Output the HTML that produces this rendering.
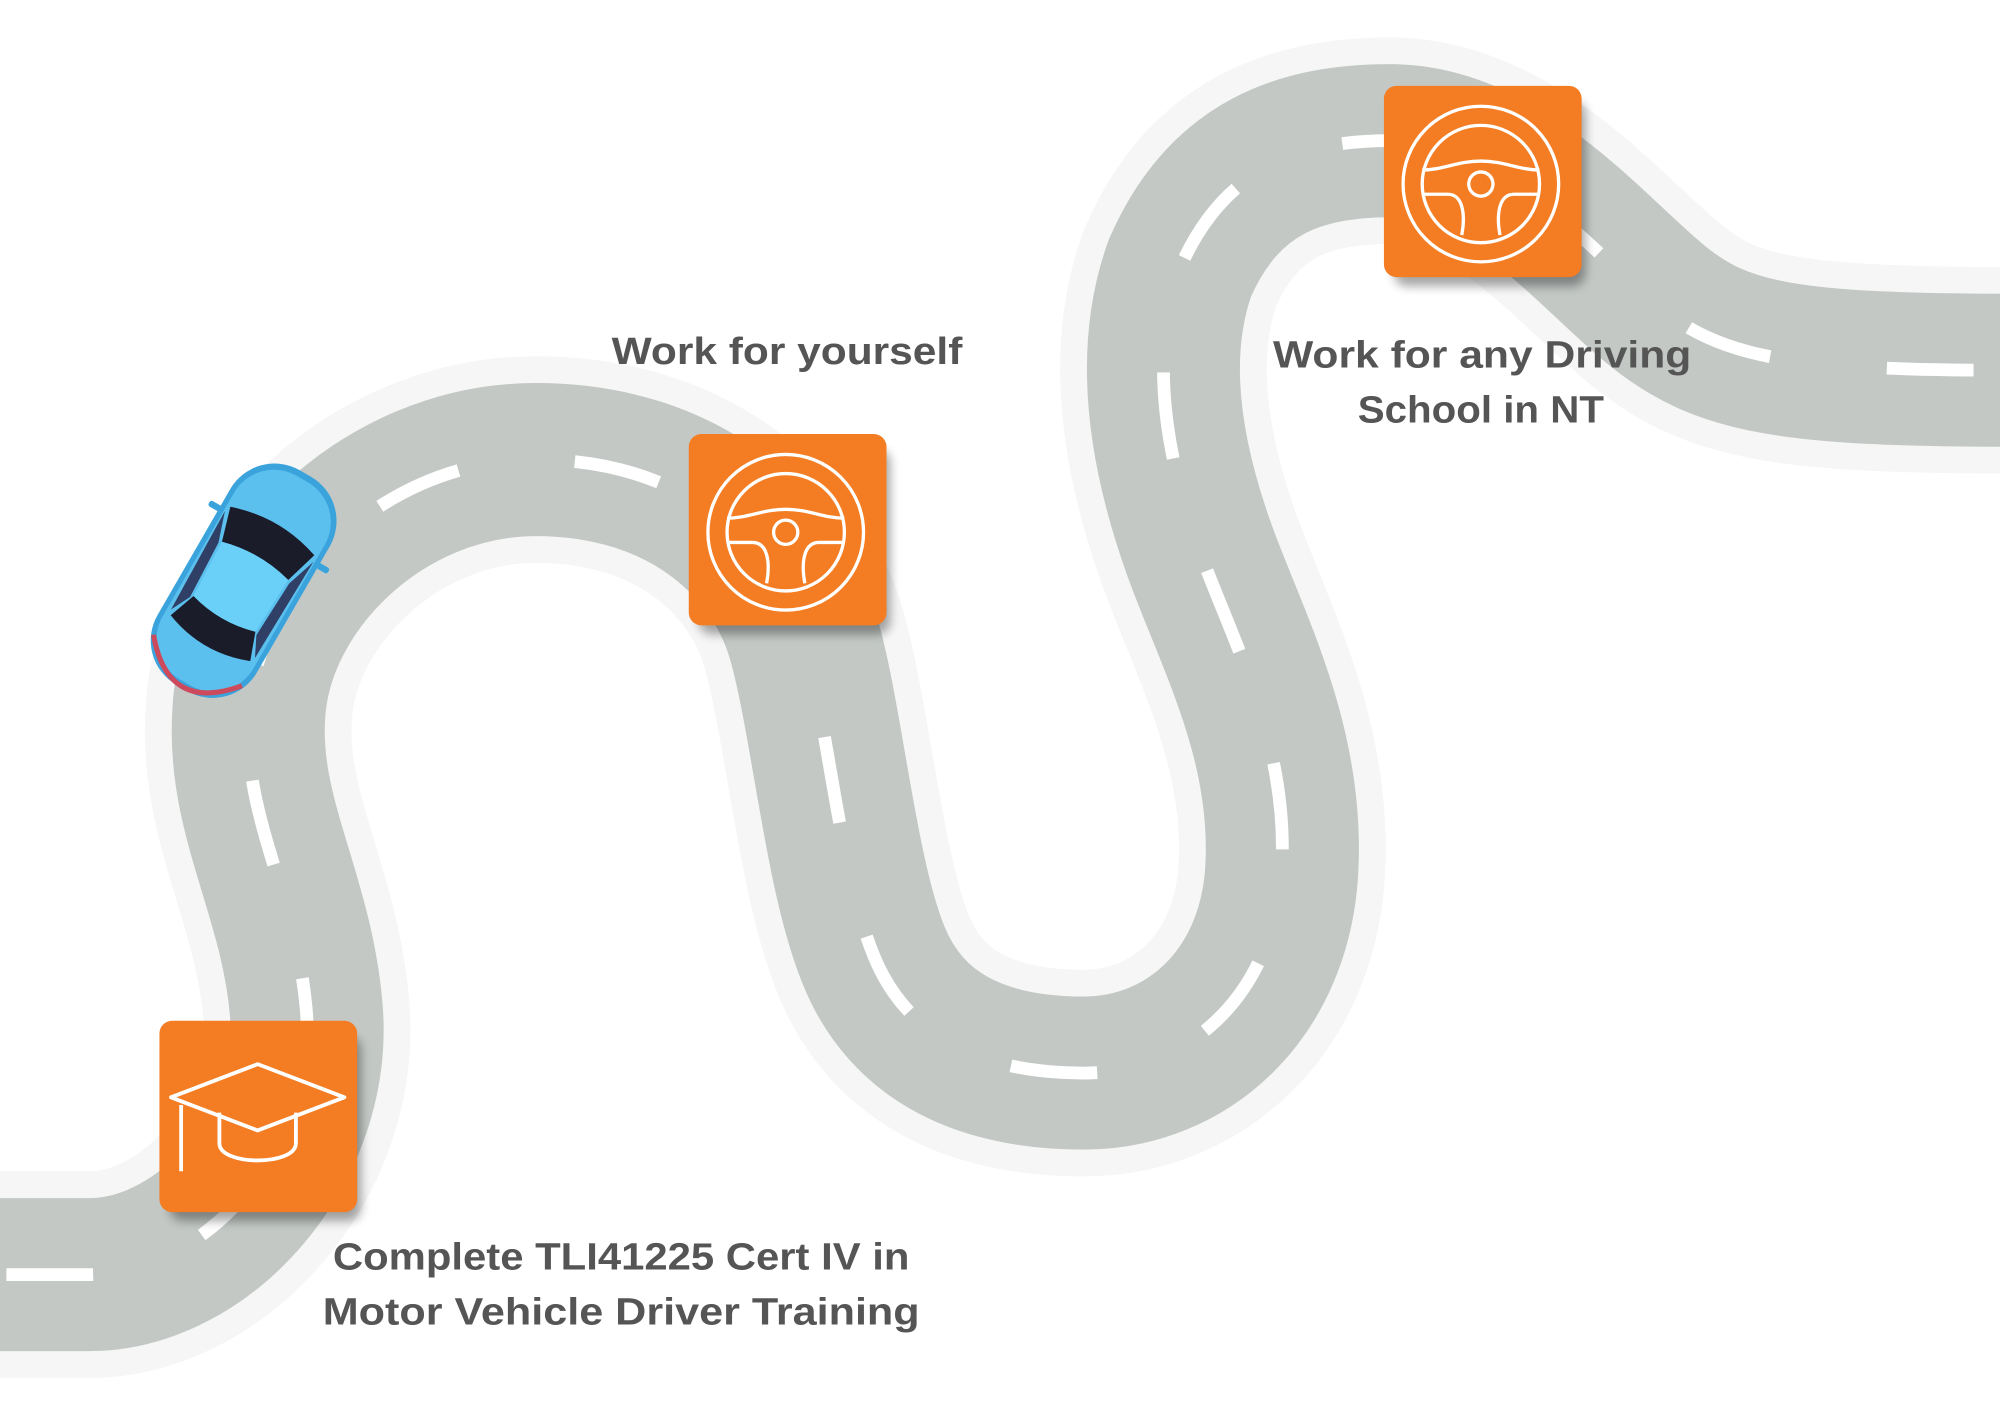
<!DOCTYPE html>
<html><head><meta charset="utf-8"><style>
html,body{margin:0;padding:0;background:#fff;}
svg{display:block;}
text{font-family:"Liberation Sans",sans-serif;font-weight:bold;fill:#555;}
</style></head><body>
<svg width="2000" height="1414" viewBox="0 0 1568 1108" xmlns="http://www.w3.org/2000/svg">
<defs>
<filter id="sh" x="-20%" y="-20%" width="140%" height="150%"><feGaussianBlur stdDeviation="4"/></filter>
<path id="road" d="M -10 999 L 70 999 C 160 999 250 900 240 790 C 232 700 190 640 195 560 C 200 460 300 360 420 360 C 540 360 610 430 630 500 C 650 570 660 700 690 760 C 720 820 780 841 850 841 C 930 841 1000 780 1005 680 C 1010 580 965 500 940 430 C 915 360 900 280 925 210 C 960 130 1020 110 1090 110 C 1180 110 1250 200 1300 240 C 1350 280 1400 290 1580 290"/>
<g id="wheel" fill="none" stroke="#fff" stroke-width="2.6">
<circle r="61"/><circle r="46"/><circle r="9.5"/>
<path d="M-46 -11 C-30 -11 -18 -18 0 -18 C18 -18 30 -11 46 -11"/>
<path d="M-45 8 L-26 8 C-14 8 -12 24 -15 40"/>
<path d="M45 8 L26 8 C14 8 12 24 15 40"/>
</g>
</defs>
<g fill="none" stroke-linecap="butt">
<use href="#road" stroke="#f5f6f5" stroke-width="162"/>
<use href="#road" stroke="#c3c8c5" stroke-width="120"/>
<use href="#road" stroke="#fff" stroke-width="10" stroke-dasharray="68 92" stroke-dashoffset="-15"/>
</g>
<g>
<rect x="133" y="812" width="150" height="145" rx="10" fill="#000" opacity="0.35" filter="url(#sh)"/>
<rect x="125" y="800" width="155" height="150" rx="10" fill="#f47c22"/>
<rect x="548" y="352" width="150" height="145" rx="10" fill="#000" opacity="0.35" filter="url(#sh)"/>
<rect x="540" y="340" width="155" height="150" rx="10" fill="#f47c22"/>
<rect x="1093" y="79" width="150" height="145" rx="10" fill="#000" opacity="0.35" filter="url(#sh)"/>
<rect x="1085" y="67" width="155" height="150" rx="10" fill="#f47c22"/>
</g>
<use href="#wheel" x="616" y="417"/>
<use href="#wheel" x="1161" y="144"/>
<g fill="none" stroke="#fff" stroke-width="3" stroke-linejoin="round">
<path d="M202 834 L270 860 L202 886 L134 860 Z"/>
<path d="M142 866 L142 918"/>
<path d="M172 872 L172 896 C172 914 232 914 232 896 L232 872"/>
</g>
<g transform="translate(191 455) rotate(30)">
<rect x="-45" y="-97" width="90" height="194" rx="40" fill="#3aa3dc"/>
<rect x="-41" y="-92" width="82" height="184" rx="36" fill="#5cc0ee"/>
<path d="M-38 -45 Q0 -58 38 -45 L30 -18 Q0 -26 -30 -18 Z" fill="#1b1c2a"/>
<path d="M-36 52 Q0 66 36 52 L28 30 Q0 38 -28 30 Z" fill="#1b1c2a"/>
<path d="M-30 -18 Q0 -26 30 -18 L28 30 Q0 38 -28 30 Z" fill="#6ad0f8"/>
<path d="M-40 -40 L-32 -16 L-30 32 L-38 48 Z" fill="#2f3f66"/>
<path d="M40 -40 L32 -16 L30 32 L38 48 Z" fill="#2f3f66"/>
<path d="M-40 72 Q-20 96 0 96 Q20 96 40 72" fill="none" stroke="#cc4a5c" stroke-width="4"/>
<rect x="-54" y="-42" width="12" height="5" rx="2" fill="#3aa3dc"/>
<rect x="42" y="-42" width="12" height="5" rx="2" fill="#3aa3dc"/>
</g>
<text x="617" y="285" font-size="30" text-anchor="middle" textLength="275" lengthAdjust="spacingAndGlyphs">Work for yourself</text>
<text x="1162" y="288" font-size="30" text-anchor="middle" textLength="328" lengthAdjust="spacingAndGlyphs">Work for any Driving</text>
<text x="1161" y="331" font-size="30" text-anchor="middle" textLength="193" lengthAdjust="spacingAndGlyphs">School in NT</text>
<text x="487" y="995" font-size="30" text-anchor="middle" textLength="452" lengthAdjust="spacingAndGlyphs">Complete TLI41225 Cert IV in</text>
<text x="487" y="1038" font-size="30" text-anchor="middle" textLength="468" lengthAdjust="spacingAndGlyphs">Motor Vehicle Driver Training</text>
</svg>
</body></html>
